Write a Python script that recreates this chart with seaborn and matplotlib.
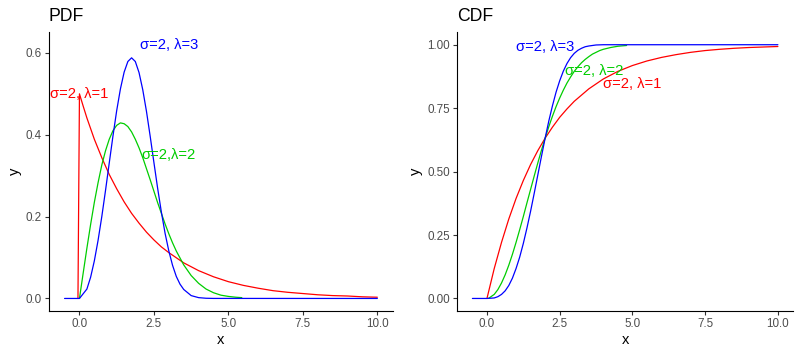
# Imports
import pandas as pd
import seaborn as sns
import matplotlib.pyplot as plt


# Curve values (sigma = 2, lambda = 1, 2, 3)
pdf_x_l1 = [-0.05, 0, 0.125, 0.25, 0.375, 0.5, 0.75, 1.0, 1.25, 1.5, 1.75,
            2.0, 2.25, 2.5, 2.75, 3.0, 3.5, 4.0, 4.5, 5.0, 5.5, 6.0, 6.5, 7.0,
            7.5, 8.0, 8.5, 9.0, 9.5, 10.0]
pdf_y_l1 = [0, 0.500, 0.470, 0.441, 0.415, 0.389, 0.344, 0.303, 0.268, 0.236,
            0.208, 0.184, 0.162, 0.143, 0.126, 0.112, 0.087, 0.068, 0.053,
            0.041, 0.032, 0.025, 0.019, 0.015, 0.012, 0.009, 0.007, 0.006,
            0.004, 0.003]

pdf_x_l2 = [0, 0.125, 0.25, 0.375, 0.5, 0.625, 0.75, 0.875, 1.0, 1.125, 1.25,
            1.375, 1.5, 1.625, 1.75, 1.875, 2.0, 2.125, 2.25, 2.375, 2.5,
            2.625, 2.75, 2.875, 3.0, 3.125, 3.25, 3.5, 3.75, 4.0, 4.25, 4.5,
            4.75, 5.0, 5.25, 5.45]
pdf_y_l2 = [0, 0.062, 0.123, 0.181, 0.235, 0.283, 0.326, 0.361, 0.389, 0.410,
            0.423, 0.429, 0.427, 0.420, 0.407, 0.389, 0.368, 0.344, 0.317,
            0.290, 0.262, 0.234, 0.208, 0.182, 0.158, 0.136, 0.116, 0.082,
            0.056, 0.037, 0.023, 0.014, 0.008, 0.005, 0.003, 0.002]

pdf_x_l3 = [-0.5, 0, 0.25, 0.375, 0.5, 0.625, 0.75, 0.875, 1.0, 1.125, 1.25,
            1.375, 1.5, 1.625, 1.75, 1.875, 2.0, 2.125, 2.25, 2.375, 2.5,
            2.625, 2.75, 2.875, 3.0, 3.125, 3.25, 3.375, 3.5, 3.75, 4.0, 4.25,
            4.5, 10.0]
pdf_y_l3 = [0, 0, 0.023, 0.052, 0.092, 0.142, 0.200, 0.264, 0.331, 0.397,
            0.459, 0.512, 0.553, 0.579, 0.588, 0.579, 0.552, 0.510, 0.457,
            0.396, 0.332, 0.269, 0.211, 0.159, 0.116, 0.081, 0.054, 0.035,
            0.022, 0.007, 0.002, 0.0005, 0.0001, 0]

cdf_x_l1 = [0, 0.25, 0.5, 0.75, 1.0, 1.25, 1.5, 1.75, 2.0, 2.25, 2.5, 2.75,
            3.0, 3.5, 4.0, 4.5, 5.0, 5.5, 6.0, 6.5, 7.0, 7.5, 8.0, 8.5, 9.0,
            9.5, 10.0]
cdf_y_l1 = [0, 0.118, 0.221, 0.313, 0.394, 0.465, 0.528, 0.583, 0.632, 0.675,
            0.714, 0.747, 0.777, 0.826, 0.865, 0.895, 0.918, 0.936, 0.950,
            0.961, 0.970, 0.977, 0.982, 0.986, 0.989, 0.991, 0.993]

cdf_x_l2 = [0.05, 0.25, 0.375, 0.5, 0.625, 0.75, 0.875, 1.0, 1.125, 1.25,
            1.375, 1.5, 1.625, 1.75, 1.875, 2.0, 2.125, 2.25, 2.375, 2.5,
            2.625, 2.75, 2.875, 3.0, 3.125, 3.25, 3.375, 3.5, 3.625, 3.75,
            3.875, 4.0, 4.25, 4.5, 4.8]
cdf_y_l2 = [0, 0.016, 0.035, 0.061, 0.093, 0.131, 0.174, 0.221, 0.271, 0.323,
            0.377, 0.430, 0.483, 0.535, 0.585, 0.632, 0.677, 0.718, 0.756,
            0.790, 0.821, 0.849, 0.873, 0.895, 0.913, 0.929, 0.942, 0.953,
            0.963, 0.970, 0.977, 0.982, 0.989, 0.994, 0.997]

cdf_x_l3 = [-0.5, 0, 0.25, 0.375, 0.5, 0.625, 0.75, 0.875, 1.0, 1.125, 1.25,
            1.375, 1.5, 1.625, 1.75, 1.875, 2.0, 2.125, 2.25, 2.375, 2.5,
            2.625, 2.75, 2.875, 3.0, 3.125, 3.25, 3.375, 3.5, 3.625, 3.75,
            4.0, 4.5, 10.0]
cdf_y_l3 = [0, 0, 0.002, 0.007, 0.016, 0.030, 0.051, 0.080, 0.118, 0.163,
            0.217, 0.278, 0.344, 0.415, 0.488, 0.561, 0.632, 0.699, 0.759,
            0.813, 0.858, 0.896, 0.926, 0.949, 0.966, 0.978, 0.986, 0.992,
            0.995, 0.997, 0.999, 1.0, 1.0, 1.0]

# Curve labels and where they sit
CURVES = ["l1", "l2", "l3"]
COLORS = {"l1": "#FF0000", "l2": "#00CD00", "l3": "#0000FF"}
PDF_LABELS = [("σ=2, λ=1", 0.0, 0.50), ("σ=2,λ=2", 3.0, 0.35),
              ("σ=2, λ=3", 3.0, 0.62)]
CDF_LABELS = [("σ=2, λ=1", 5.0, 0.845), ("σ=2, λ=2", 3.7, 0.895),
              ("σ=2, λ=3", 2.0, 0.99)]


def to_frame(xs, ys):
    frames = []
    for key, x, y in zip(CURVES, xs, ys):
        frames.append(pd.DataFrame({"x": x, "y": y, "curve": key}))
    return pd.concat(frames, ignore_index=True)


pdf = to_frame([pdf_x_l1, pdf_x_l2, pdf_x_l3], [pdf_y_l1, pdf_y_l2, pdf_y_l3])
cdf = to_frame([cdf_x_l1, cdf_x_l2, cdf_x_l3], [cdf_y_l1, cdf_y_l2, cdf_y_l3])


# Display
sns.set_theme(style="ticks")
plt.rcParams["font.family"] = ["Liberation Sans", "DejaVu Sans"]
fig = plt.figure(figsize=(8.02, 3.56), dpi=100)
ax1 = fig.add_axes([0.061, 0.126, 0.429, 0.784])
ax2 = fig.add_axes([0.570, 0.126, 0.419, 0.784])

panels = [(ax1, pdf, PDF_LABELS, "PDF", (-0.031, 0.651), [0, 0.2, 0.4, 0.6],
           ["0.0", "0.2", "0.4", "0.6"]),
          (ax2, cdf, CDF_LABELS, "CDF", (-0.05, 1.05),
           [0, 0.25, 0.5, 0.75, 1.0],
           ["0.00", "0.25", "0.50", "0.75", "1.00"])]
for ax, df, labels, title, ylim, yticks, yticklabels in panels:
    sns.lineplot(data=df, x="x", y="y", hue="curve", palette=COLORS,
                 hue_order=CURVES, linewidth=0.9, legend=False, ax=ax,
                 sort=False, estimator=None)
    for (text, tx, ty), key in zip(labels, CURVES):
        ax.text(tx, ty, text, color=COLORS[key], fontsize=10.6,
                ha="center", va="center")
    ax.set_xlim(-1.025, 10.525)
    ax.set_ylim(*ylim)
    ax.set_xticks([0, 2.5, 5, 7.5, 10])
    ax.set_xticklabels(["0.0", "2.5", "5.0", "7.5", "10.0"])
    ax.set_yticks(yticks)
    ax.set_yticklabels(yticklabels)
    ax.tick_params(length=3, width=0.8, color="#333333", labelsize=8.4,
                   labelcolor="#4D4D4D", pad=2)
    for side in ("left", "bottom"):
        ax.spines[side].set_linewidth(0.8)
        ax.spines[side].set_color("black")
    sns.despine(ax=ax)
    ax.set_xlabel("x", fontsize=10.6, labelpad=2, color="black")
    ax.set_ylabel("y", fontsize=10.6, labelpad=3, color="black")
    ax.set_title(title, loc="left", fontsize=12.7, pad=8, color="black")

fig.savefig("out.png", dpi=100)
